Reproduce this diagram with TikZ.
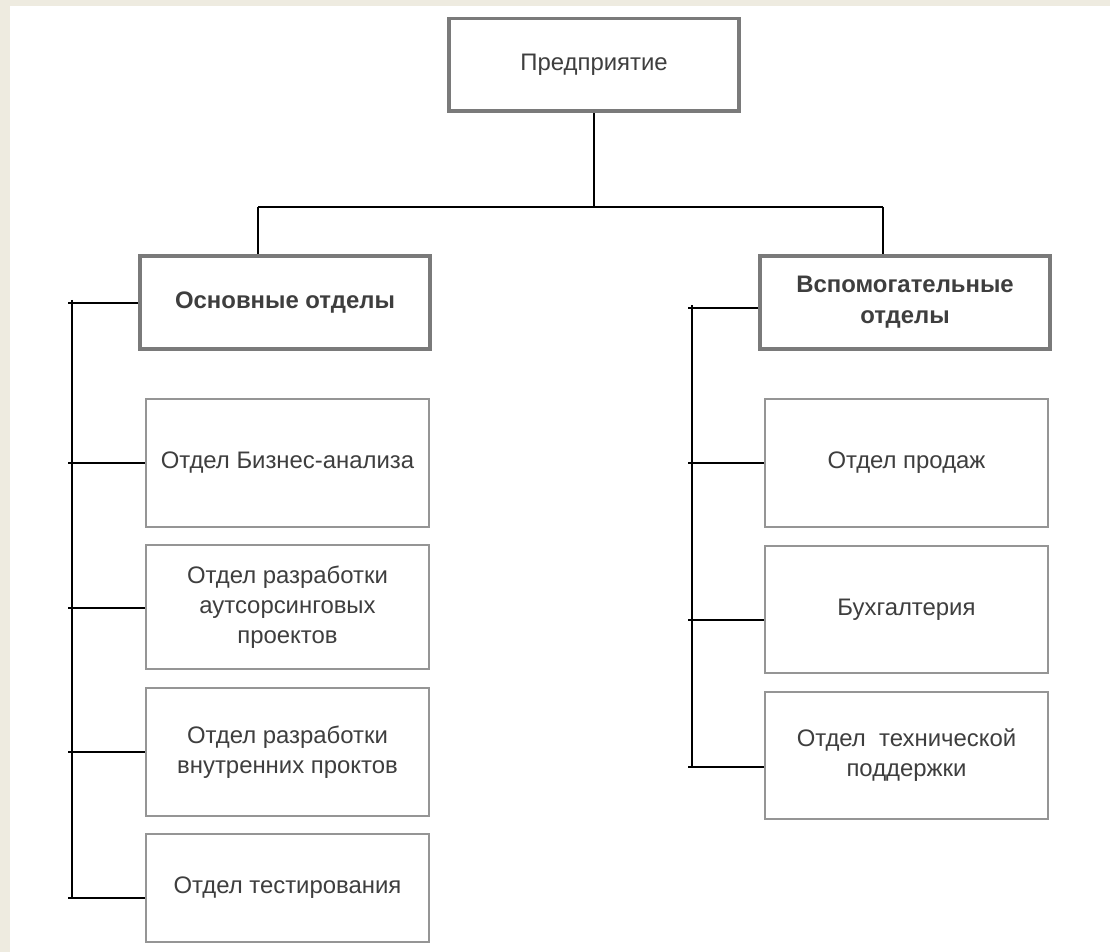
\documentclass[tikz,border=0pt]{standalone}
\usepackage{fontspec}
\setmainfont{Liberation Sans}
\usepackage{tikz}
\definecolor{pagebg}{HTML}{EEEBE0}
\definecolor{boxgray}{HTML}{7A7A7A}
\definecolor{thingray}{HTML}{959595}
\definecolor{textgray}{HTML}{3E3E3E}

\begin{document}
\begin{tikzpicture}[%
x=0.02cm, y=-0.02cm,
every node/.style={font=\fontsize{13.6}{17}\selectfont, text=textgray, align=center},
mainbox/.style={draw=boxgray, line width=2.27pt, minimum width=5.8cm, minimum height=1.86cm, inner sep=0pt},
deptbox/.style={draw=thingray, line width=0.8pt, minimum width=5.66cm, inner sep=0pt},
link/.style={draw=black, line width=1pt}]%Define the box styles and the connector style
\useasboundingbox (0,0) rectangle (1110,952);
\fill[pagebg] (0,0) rectangle (1110,952);
\fill[white] (10,6) rectangle (1110,952);
\node[mainbox] (ent) at (594,65) {Предприятие};
\node[mainbox, font=\fontsize{13.6}{17}\selectfont\bfseries] (core) at (285,302.5) {Основные отделы};
\node[mainbox, font=\fontsize{13.6}{17.6}\selectfont\bfseries] (aux) at (905,302.5) {Вспомогательные\\отделы};
% core departments
\node[deptbox, minimum height=2.56cm] (c1) at (287.5,463) {Отдел Бизнес-анализа};
\node[deptbox, minimum height=2.48cm] (c2) at (287.5,607) {Отдел разработки\\аутсорсинговых\\проектов};
\node[deptbox, minimum height=2.56cm] (c3) at (287.5,752) {Отдел разработки\\внутренних проктов};
\node[deptbox, minimum height=2.16cm] (c4) at (287.5,888) {Отдел тестирования};
% auxiliary departments
\node[deptbox, minimum height=2.56cm] (a1) at (906.5,463) {Отдел продаж};
\node[deptbox, minimum height=2.54cm] (a2) at (906.5,609.5) {Бухгалтерия};
\node[deptbox, minimum height=2.54cm] (a3) at (906.5,755.5) {Отдел~~технической\\поддержки};
% top level bus
\coordinate (hl) at (258,207);
\coordinate (hr) at (883,207);
\draw[link] (ent.south) -- (ent.south |- hl);
\draw[link] (hl) -- (hr);
\draw[link] (hl) -- (hl |- core.north);
\draw[link] (hr) -- (hr |- aux.north);
% left bus
\coordinate (lt) at (72,300);
\coordinate (lb) at (72,898);
\draw[link] (lt) -- (lb);
\foreach \n/\y in {core/303, c1/463, c2/608, c3/752, c4/898}
  {\coordinate (l\n) at (68,\y);
   \draw[link] (l\n) -- (l\n -| \n.west);}
% right bus
\coordinate (rt) at (692,305);
\coordinate (rb) at (692,767);
\draw[link] (rt) -- (rb);
\foreach \n/\y in {aux/308, a1/463, a2/620, a3/767}
  {\coordinate (r\n) at (688,\y);
   \draw[link] (r\n) -- (r\n -| \n.west);}
\end{tikzpicture}
\end{document}
